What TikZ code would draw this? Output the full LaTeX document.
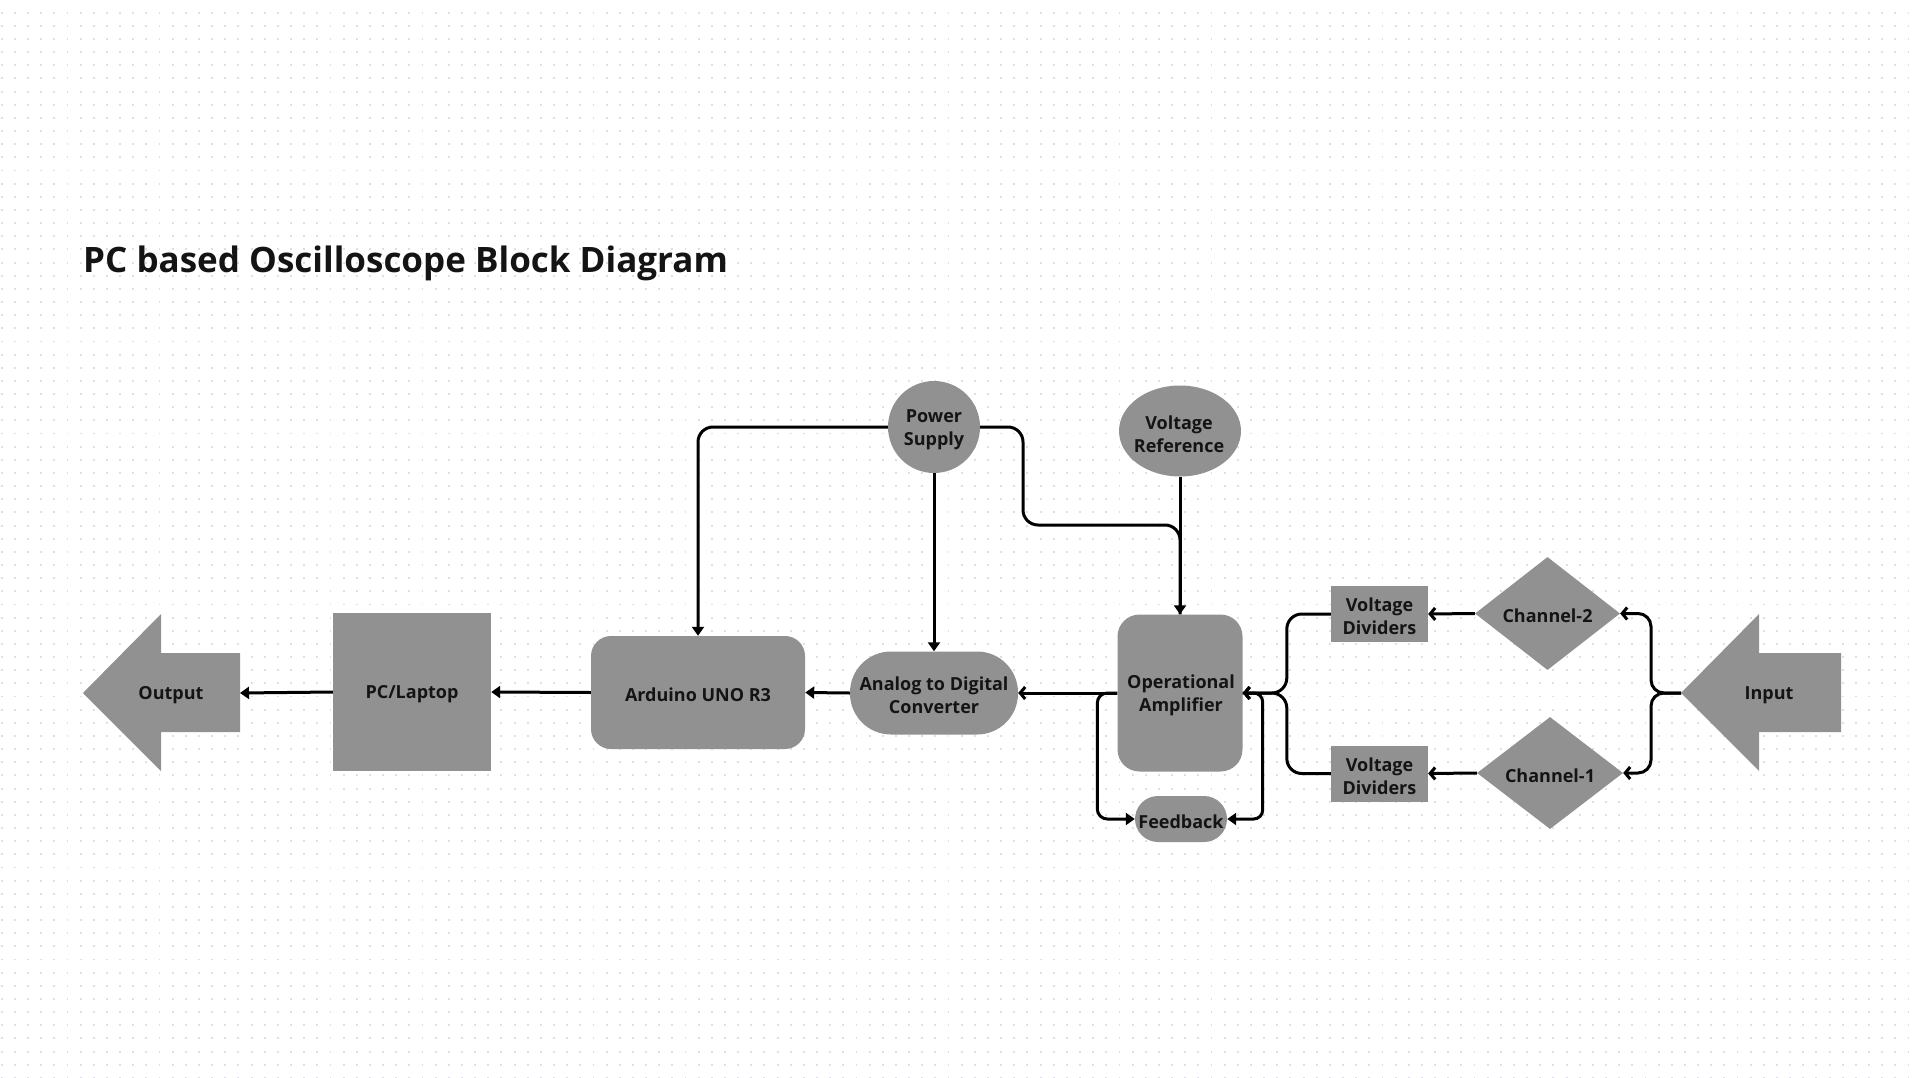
\documentclass[tikz,border=0pt]{standalone}
\usepackage{fontspec}
\setmainfont{Open Sans}
\usetikzlibrary{arrows.meta,shapes.geometric}
\definecolor{blk}{HTML}{141414}
\definecolor{boxgray}{HTML}{919191}
\definecolor{dotc}{HTML}{DEDEE6}
\tikzset{
  blk/.style={fill=boxgray, draw=none, inner sep=0pt},
  sqbox/.style={blk, rectangle},
  rbox/.style={blk, rectangle, rounded corners=#1},
  txt/.style={inner sep=0pt, text=blk, font=\fontsize{18}{23}\selectfont\bfseries,
    align=center, yshift=-2.5pt},
  conn/.style={draw=black, line width=3pt},
  farr/.style={-{Triangle[length=9pt,width=12pt]}},
  carr/.style={-{Straight Barb[length=5pt,width=12pt]}},
}
\begin{document}
\begin{tikzpicture}[x=1pt,y=-1pt]
\useasboundingbox (0,0) rectangle (1918,1078);
\fill[white] (0,0) rectangle (1918,1078);
% dotted background
\foreach \k in {0,...,82}{
  \draw[dotc, line width=1.9pt, dash pattern=on 1.9pt off 11.25pt]
    (0.75,{-0.45+\k*13.15}) -- (1918,{-0.45+\k*13.15});
}
% title
\node[anchor=base west, inner sep=0pt, text=blk,
  font=\fontsize{35}{40}\selectfont\bfseries] (title) at (83,272)
  {PC based Oscilloscope Block Diagram};

% output arrow shape
\fill[boxgray] (83,693) -- (161,614) -- (161,653) -- (240,653) -- (240,732)
  -- (161,732) -- (161,771) -- cycle;
\coordinate (outR) at (240,693);
\node[txt] (outT) at (171,693) {Output};
% input arrow shape
\fill[boxgray] (1681,693) -- (1759,614) -- (1759,653) -- (1841,653) -- (1841,732)
  -- (1759,732) -- (1759,771) -- cycle;
\coordinate (inTip) at (1681,693);
\node[txt] (inT) at (1769,693) {Input};

% shapes
\node[sqbox, minimum width=158pt, minimum height=158pt] (pc) at (412,692) {};
\node[rbox=20pt, minimum width=214pt, minimum height=113pt] (ard) at (698,692.5) {};
\node[rbox=41pt, minimum width=168pt, minimum height=83pt] (adc) at (934,693) {};
\node[blk, circle, minimum size=92pt] (ps) at (934,427) {};
\node[blk, ellipse, minimum width=122pt, minimum height=91pt] (vref) at (1180,431) {};
\node[rbox=22pt, minimum width=125pt, minimum height=157pt] (op) at (1180,693) {};
\node[rbox=23pt, minimum width=92pt, minimum height=46pt] (fb) at (1181,819) {};
\node[sqbox, minimum width=97pt, minimum height=56pt] (vd2) at (1379.5,614) {};
\node[sqbox, minimum width=97pt, minimum height=56pt] (vd1) at (1379.5,773.5) {};
\node[blk, diamond, aspect=1.28, minimum width=145pt, minimum height=113pt] (ch2) at (1547.5,613.5) {};
\node[blk, diamond, aspect=1.3, minimum width=146pt, minimum height=112pt] (ch1) at (1550,773) {};

% texts
\node[txt] (pcT) at (pc) {PC/Laptop};
\node[txt] (ardT) at (ard) {Arduino UNO R3};
\node[txt] (adcT) at (adc) {Analog to Digital\\Converter};
\node[txt] (psT) at (ps) {Power\\Supply};
\node[txt] (vrefT) at (1179,432) {Voltage\\Reference};
\node[txt] (opT) at (1181,693) {Operational\\Amplifier};
\node[txt] (fbT) at (fb) {Feedback};
\node[txt] (vd2T) at (vd2) {Voltage\\Dividers};
\node[txt] (vd1T) at (vd1) {Voltage\\Dividers};
\node[txt] (ch2T) at (ch2) {Channel-2};
\node[txt] (ch1T) at (ch1) {Channel-1};

% connectors
\draw[conn, farr] (pc.west) -- (outR);
\draw[conn, farr] (ard.west) -- (pc.east);
\draw[conn, farr] (adc.west) -- (ard.east);
\draw[conn, carr] (op.west) -- (adc.east);
\draw[conn, farr, rounded corners=15pt] (ps.west) -| (ard.north);
\draw[conn, farr] (ps.south) -- (adc.north);
\coordinate (psbend) at (1023,525);
\draw[conn, rounded corners=15pt] (ps.east) -| (psbend) -| (op.north);
\draw[conn, farr] (vref.south) -- (op.north);
\draw[conn, farr, rounded corners=10pt] (op.west) -- ++(-20,0) |- (fb.west);
\draw[conn, farr, rounded corners=9pt] (op.east) -- ++(20,0) |- (fb.east);
\draw[conn, carr, rounded corners=15pt] (vd2.west) -- ++(-44,0) |- (op.east);
\draw[conn, carr, rounded corners=15pt] (vd1.west) -- ++(-44,0) |- (op.east);
\draw[conn, carr] (ch2.west) -- (vd2.east);
\draw[conn, carr] (ch1.west) -- (vd1.east);
\draw[conn, carr, rounded corners=13pt] (inTip) -- ++(-30,0) |- (ch2.east);
\draw[conn, carr, rounded corners=13pt] (inTip) -- ++(-30,0) |- (ch1.east);
\end{tikzpicture}
\end{document}
